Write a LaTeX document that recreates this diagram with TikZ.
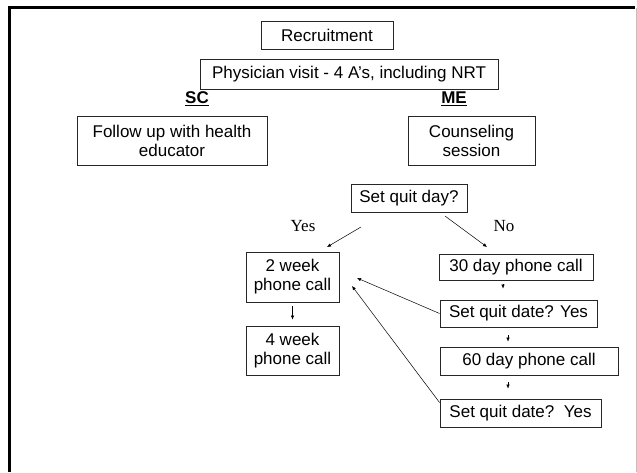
\documentclass[tikz,border=0pt]{standalone}
\usepackage{fontspec}
\setmainfont{Liberation Sans}
\newfontfamily\answerfont{Liberation Serif}
\usetikzlibrary{arrows.meta}
\tikzset{
    box/.style={draw=black!85, line width=0.8pt, inner sep=0pt, align=center,
            font=\fontsize{17}{19}\selectfont},
    tip/.style={-{Latex[length=4pt,width=3.5pt]}, line width=0.5pt},
    answer/.style={font=\answerfont\fontsize{17}{19}\selectfont},
    arm/.style={font=\bfseries\fontsize{17}{19}\selectfont},
}

\begin{document}
\begin{tikzpicture}[x=1pt, y=-1pt]
        \useasboundingbox (0,0) rectangle (637,472);
        %draw slide frame
        \draw[line width=3pt] (9.5,472) -- (9.5,7.5) -- (635,7.5);
        \draw[black!25, line width=1pt] (636,7.5) -- (636,472);
        %draw common boxes
        \node[box, minimum width=132pt, minimum height=28pt] (recruit) at (327,35) {Recruitment};
        \node[box, minimum width=298pt, minimum height=30pt] (visit) at (349,74) {Physician visit - 4 A’s, including NRT};
        %label the two arms
        \node[arm] (sc) at (197,99) {\underline{SC}};
        \node[arm] (me) at (454,99) {\underline{ME}};
        %draw first box of each arm
        \node[box, minimum width=190pt, minimum height=49pt] (followup) at (172,140.5) {Follow up with health\\educator};
        \node[box, minimum width=127pt, minimum height=49pt] (counsel) at (471.5,140.5) {Counseling\\session};
        %draw quit day question
        \node[box, minimum width=116pt, minimum height=28pt] (quitday) at (409,198) {Set quit day?};
        \node[answer] (yes) at (303,226) {Yes};
        \node[answer] (no) at (504,226) {No};
        %draw phone call boxes
        \node[box, minimum width=93pt, minimum height=50pt] (week2) at (292.5,277) {2 week\\phone call};
        \node[box, minimum width=93pt, minimum height=49pt] (week4) at (292.5,350.5) {4 week\\phone call};
        \node[box, minimum width=154pt, minimum height=26pt] (day30) at (516,267) {30 day phone call};
        \node[box, minimum width=157pt, minimum height=27pt] (sqd1) at (518.5,313.5) {Set quit date? Yes};
        \node[box, minimum width=178pt, minimum height=28pt] (day60) at (529,361) {60 day phone call};
        \node[box, minimum width=161pt, minimum height=28pt] (sqd2) at (520.5,413) {Set quit date?\ \ Yes};
        %arrow ends
        \coordinate (yesstart) at (361,227);
        \coordinate (yesend) at (327,247);
        \coordinate (nostart) at (445,216);
        \coordinate (noend) at (487,247);
        \coordinate (backa) at (357,278);
        \coordinate (backb) at (352,286);
        %draw arrows
        \draw[tip] (yesstart) -- (yesend);
        \draw[tip] (nostart) -- (noend);
        \draw[tip, shorten <=4pt, shorten >=6pt] (week2) -- (week4);
        \draw[tip, shorten <=4pt, shorten >=11pt] ([xshift=-13pt]day30.south) -- ([xshift=-13pt]day30.south |- sqd1.north);
        \draw[tip, shorten <=8pt, shorten >=5pt] ([xshift=-10.5pt]sqd1.south) -- ([xshift=-10.5pt]sqd1.south |- day60.north);
        \draw[tip, shorten <=7pt, shorten >=10pt] ([xshift=-21pt]day60.south) -- ([xshift=-21pt]day60.south |- sqd2.north);
        \draw[tip] (sqd1.west) -- (backa);
        \draw[tip] ([yshift=-4pt]sqd2.north west) -- (backb);
\end{tikzpicture}
\end{document}
